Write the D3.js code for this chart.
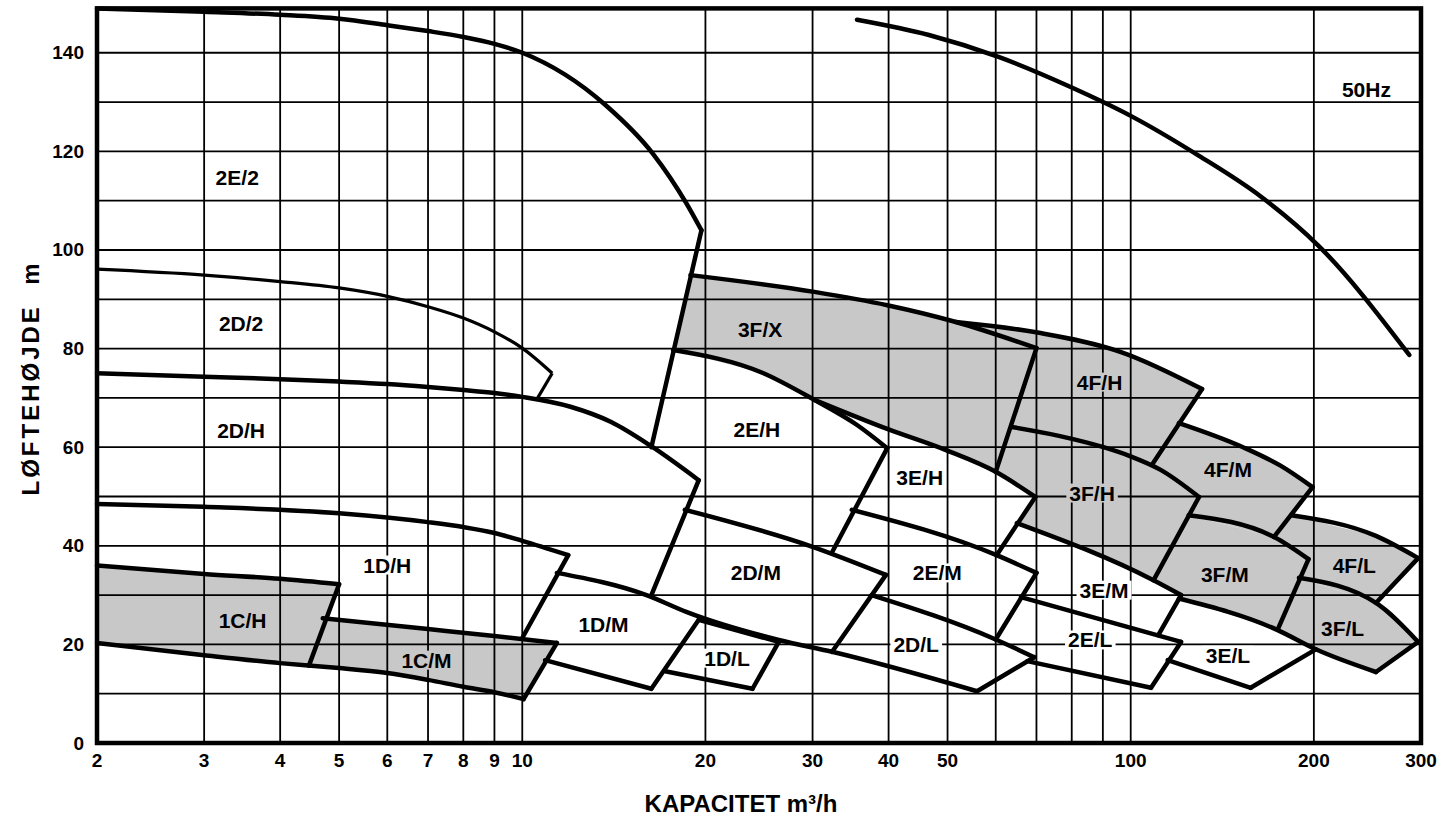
<!DOCTYPE html>
<html>
<head>
<meta charset="utf-8">
<script src="https://cdn.jsdelivr.net/npm/d3@7"></script>
<style>
  body { margin:0; background:#fff; }
  svg { display:block; font-family:"Liberation Sans", Arial, Helvetica, sans-serif; font-weight:bold; }
</style>
</head>
<body>
<svg id="chart" width="1456" height="821"></svg>
<script>
// grid + ticks
const xGrid = [2,3,4,5,6,7,8,9,10,20,30,40,50,60,70,80,90,100,200,300];
const xTickLabels = [2,3,4,5,6,7,8,9,10,20,30,40,50,100,200,300];
const yGrid = [0,10,20,30,40,50,60,70,80,90,100,110,120,130,140];
const yTickLabels = [0,20,40,60,80,100,120,140];

// curves, [capacity m3/h, head m]
const c2E2top    = [[2,149],[3,148.3],[4,147.7],[5,146.9],[6,145.6],[7,144.4],[8,143.2],[9,141.8],[10,140],[13.7,129.4],[16.4,119.5],[18.6,109.5],[19.7,104]];
const e2E2right  = [[19.7,104],[16.3,60]];
const c2D2top    = [[2,96.1],[3,94.9],[4,93.6],[5,92.3],[6,90.6],[7,88.5],[8,86.2],[9,83.4],[10,80.1],[11.2,75]];
const e2D2right  = [[11.2,75],[10.6,70]];
const c2DHtop    = [[2,75],[3,74.3],[4,73.8],[5,73.3],[6,72.8],[7,72.2],[8,71.6],[9,71],[10,70.2],[12,68.2],[14,65.1],[16.2,60.4],[19.5,53.3]];
const e2DHright  = [[19.5,53.3],[16.3,30]];
const c1DHtop    = [[2,48.5],[3,47.9],[5,46.6],[7,44.8],[8,43.8],[9,42.6],[10,41],[11.9,38.1]];
const e1DHright  = [[11.9,38.1],[10,21.3]];
const c1CHtop    = [[2,36],[3,34.3],[4,33.3],[5,32.2]];
const e1Cright   = [[5,32.2],[4.46,15.7]];
const c1CHbottom = [[2,20.3],[3,17.8],[4,16.2],[4.46,15.7]];
const c1CMbottom = [[4.46,15.7],[5,15.2],[6,14.2],[7,12.8],[8,11.4],[9,10.3],[10.05,8.9]];
const c1CMtop    = [[4.7,25.3],[7,23.1],[9,21.7],[11.4,20.3]];
const e1CMright  = [[11.4,20.3],[10.05,8.9]];
const c1DMtop    = [[11.4,34.5],[16,30],[18.6,26.6],[26.4,20.9],[32.3,18.5],[55.9,10.5]];
const c1DMbottom = [[10.9,16.8],[16.3,11]];
const e1DMright  = [[19.5,25],[16.3,11]];
const c1DLtop    = [[19.5,25],[26.4,20.5]];
const c1DLbottom = [[17.1,14.6],[23.9,11]];
const e1DLright  = [[26.4,20.5],[23.9,11]];
const c2DMtop    = [[18.5,47.3],[30,39.8],[39.6,34.1]];
const e2DMright  = [[39.6,34.1],[32.3,18.5]];
const c2EHtop    = [[17.7,79.7],[24.8,75.1],[30.2,69.6],[35.5,64.5],[39.8,59.8]];
const e2EHright  = [[39.8,59.8],[32.3,38.7]];
const c3FXbottom = [[30.2,69.6],[40,63.6],[49.7,59.4],[60,55],[69.7,49.9]];
const e3EHright  = [[69.7,49.9],[60.2,38.1]];
const c2EMtop    = [[34.8,47.3],[60.2,38.1],[70,34.5]];
const e2EMright  = [[70,34.5],[60,21]];
const c2DLtop    = [[37.5,30],[60,21],[69.4,17.4]];
const e2DLright  = [[69.4,17.4],[55.9,10.5]];
const c2ELtop    = [[66,29.6],[121,20.5]];
const e2ELright  = [[121,20.5],[108,11.2]];
const c2ELbottom = [[67.6,16.6],[108,11.2]];
const c3EMtop    = [[65,44.6],[109,33],[121,30]];
const e3EMright  = [[121,30],[111,21.9]];
const c3FXtop    = [[18.9,94.9],[30.2,91.5],[39.8,88.8],[51.6,85.4],[70,80.1]];
const c4FHtop    = [[51.6,85.4],[70.7,83.2],[96.4,79.3],[131,71.8]];
const e3FXright  = [[70,80.1],[60,55]];
const e4FHright  = [[131,71.8],[108.6,56.6]];
const c3FHtop    = [[63.8,64.1],[76.2,62.3],[90.2,60],[99.7,58.2],[112,55.4],[129.5,49.9]];
const e3FHright  = [[129.5,49.9],[109,33]];
const c4FMtop    = [[120,64.9],[153,60],[176,56.3],[199,51.9]];
const e4FMright  = [[199,51.9],[172,41.8]];
const c3FMtop    = [[124.5,46.2],[172,41.8],[196,37.3]];
const e3FMright  = [[196,37.3],[174.4,23]];
const c3FLbottom = [[120,29.3],[174.4,22.9],[201.5,19],[253,14.4]];
const c4FLtop    = [[183.5,46.2],[253,42],[296.8,37.5]];
const e4FLright  = [[296.8,37.5],[253,28.4]];
const c3FLtop    = [[189,33.5],[253,28.4],[296.8,20.5]];
const e3FLright  = [[296.8,20.5],[253,14.4]];
const e3ELright  = [[201.5,19],[157.5,11.2]];
const c3ELbottom = [[115,16.8],[157.5,11.2]];
const c50Hz      = [[35.5,146.7],[46.6,143.6],[60.8,139.1],[79.5,133.1],[100,127.2],[129.5,119.1],[163.8,110.8],[203,101],[287,78.7]];

// region labels
const labels = [
  {t:"2E/2", q:3.4,  h:114.8}, {t:"2D/2", q:3.45, h:85},   {t:"2D/H", q:3.45, h:63.3},
  {t:"1D/H", q:6,    h:36.1},  {t:"1C/H", q:3.47, h:24.9, g:1}, {t:"1C/M", q:6.96, h:16.8, g:1},
  {t:"1D/M", q:13.6, h:24.1},  {t:"1D/L", q:21.7, h:17.2}, {t:"2D/M", q:24.2, h:34.5},
  {t:"2D/L", q:44.4, h:19.9},  {t:"2E/H", q:24.3, h:63.5}, {t:"3F/X", q:24.6, h:83.8, g:1},
  {t:"3E/H", q:45,   h:53.8},  {t:"2E/M", q:48.1, h:34.5}, {t:"2E/L", q:85.8, h:20.9},
  {t:"3E/M", q:90.4, h:31},    {t:"3E/L", q:144.5,h:17.8}, {t:"4F/H", q:88.9, h:73.2, g:1},
  {t:"3F/H", q:86.4, h:50.7, g:1}, {t:"4F/M", q:144.5, h:55.4, g:1}, {t:"3F/M", q:142.8, h:34.1, g:1},
  {t:"4F/L", q:233,  h:36.1, g:1}, {t:"3F/L", q:223, h:23.3, g:1}, {t:"50Hz", q:244, h:132.5}
];

const shade = "#c8c8c8";
const svg = d3.select("#chart");

const x = d3.scaleLog().domain([2,300]).range([97,1421]);
const y = d3.scaleLinear().domain([0,149]).range([743,8.4]);

const smooth = d3.line().x(d => x(d[0])).y(d => y(d[1])).curve(d3.curveMonotoneX);
const poly = d3.line().x(d => x(d[0])).y(d => y(d[1]));
const rev = a => a.slice().reverse();

// shaded tiles
const fills = [
  [...c1CHtop, ...rev(c1CHbottom)],
  [...c1CMtop, ...rev(c1CMbottom)],
  [...c3FXtop, ...rev(c3FXbottom.slice(0,4)), ...rev(c2EHtop.slice(0,2))],
  [...c4FHtop, e4FHright[1], ...rev(c3FHtop.slice(0,4)), c3FXtop[4]],
  [...c3FHtop, [109,33], c3EMtop[0], c3FXbottom[4], c3FXbottom[3]],
  [...c4FMtop, [172,41.8], c3FMtop[0], [129.5,49.9], [112,55.4], e4FHright[1]],
  [...c3FMtop, [174.4,23], [120,29.3], [121,30], [109,33]],
  [...c4FLtop, [253,28.4], [189,33.5], [196,37.3], [172,41.8]],
  [...c3FLtop, [253,14.4], [201.5,19], [174.4,22.9]]
];

svg.append("g")
  .selectAll("path")
  .data(fills)
  .join("path")
  .attr("d", d => poly(d) + "Z")
  .attr("fill", shade);

// grid
const grid = svg.append("g").attr("stroke", "#000").attr("stroke-width", 1.8);
grid.selectAll("line.v")
  .data(xGrid)
  .join("line")
  .attr("class", "v")
  .attr("x1", d => x(d)).attr("x2", d => x(d))
  .attr("y1", y(0)).attr("y2", y(149));
grid.selectAll("line.h")
  .data(yGrid)
  .join("line")
  .attr("class", "h")
  .attr("x1", x(2)).attr("x2", x(300))
  .attr("y1", d => y(d)).attr("y2", d => y(d));

// labels with a small backing so grid stops at the text
const lg = svg.append("g");
labels.forEach(d => {
  const g = lg.append("g");
  const r = g.append("rect").attr("fill", d.g ? shade : "#fff");
  const t = g.append("text")
    .attr("x", x(d.q)).attr("y", y(d.h))
    .attr("text-anchor", "middle")
    .attr("dominant-baseline", "central")
    .style("font-size", "21px")
    .text(d.t);
  const b = t.node().getBBox();
  r.attr("x", b.x - 3).attr("y", b.y + 2).attr("width", b.width + 6).attr("height", b.height - 4);
});

// outlines
const strokes = [
  c2E2top, e2E2right, c2DHtop, e2DHright, c1DHtop, e1DHright,
  c1CHtop, e1Cright, c1CHbottom, c1CMbottom, c1CMtop, e1CMright,
  c1DMtop, c1DMbottom, e1DMright, c1DLtop, c1DLbottom, e1DLright,
  c2DMtop, e2DMright, c2EHtop, e2EHright, c3FXbottom, e3EHright,
  c2EMtop, e2EMright, c2DLtop, e2DLright, c2ELtop, e2ELright, c2ELbottom,
  c3EMtop, e3EMright, c3FXtop, c4FHtop, e3FXright, e4FHright,
  c3FHtop, e3FHright, c4FMtop, e4FMright, c3FMtop, e3FMright,
  c3FLbottom, c4FLtop, e4FLright, c3FLtop, e3FLright, e3ELright, c3ELbottom, c50Hz
];

svg.append("g")
  .attr("fill", "none").attr("stroke", "#000")
  .attr("stroke-width", 4.5).attr("stroke-linejoin", "round").attr("stroke-linecap", "round")
  .selectAll("path")
  .data(strokes)
  .join("path")
  .attr("d", smooth);

svg.append("g")
  .attr("fill", "none").attr("stroke", "#000")
  .attr("stroke-width", 3.2).attr("stroke-linejoin", "round")
  .selectAll("path")
  .data([c2D2top, e2D2right])
  .join("path")
  .attr("d", smooth);

// frame
svg.append("rect")
  .attr("x", x(2)).attr("y", y(149))
  .attr("width", x(300) - x(2)).attr("height", y(0) - y(149))
  .attr("fill", "none").attr("stroke", "#000").attr("stroke-width", 4.5);

// tick labels
svg.append("g")
  .selectAll("text")
  .data(xTickLabels)
  .join("text")
  .attr("x", d => x(d)).attr("y", 767)
  .attr("text-anchor", "middle")
  .style("font-size", "19px")
  .text(d => d);

svg.append("g")
  .selectAll("text")
  .data(yTickLabels)
  .join("text")
  .attr("x", 84).attr("y", d => y(d))
  .attr("text-anchor", "end")
  .attr("dominant-baseline", "central")
  .style("font-size", "19px")
  .text(d => d);

// axis titles
svg.append("text")
  .attr("x", 741).attr("y", 812)
  .attr("text-anchor", "middle")
  .style("font-size", "24px")
  .text("KAPACITET m³/h");

svg.append("text")
  .attr("transform", "translate(39,378) rotate(-90)")
  .attr("text-anchor", "middle")
  .style("font-size", "24px")
  .style("letter-spacing", "3px")
  .style("white-space", "pre")
  .text("LØFTEHØJDE  m");
</script>
</body>
</html>
